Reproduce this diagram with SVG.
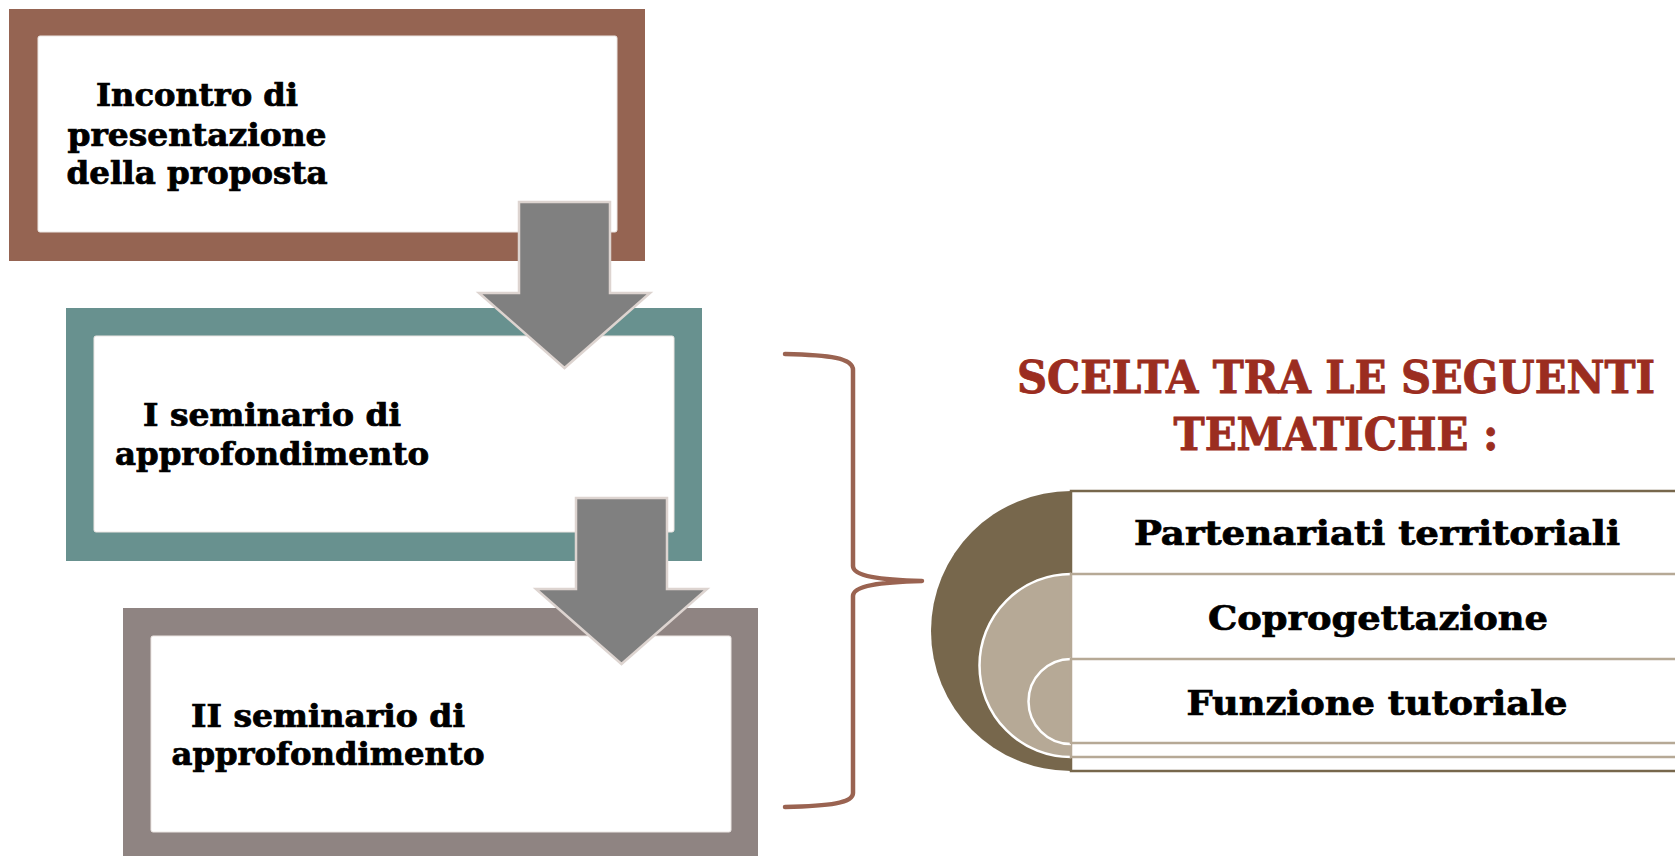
<svg xmlns="http://www.w3.org/2000/svg" width="1675" height="856" viewBox="0 0 1675 856">
  <style>
    .lbl { font-family: "DejaVu Serif Condensed", "DejaVu Serif", "Liberation Serif", serif; font-stretch: condensed; font-weight: bold; fill: #000; stroke: #000; stroke-width: 0.7; text-anchor: middle; }
    .box { font-size: 31px; }
    .row { font-size: 34px; }
    .title { font-family: "DejaVu Serif Condensed", "DejaVu Serif", "Liberation Serif", serif; font-stretch: condensed; font-weight: bold; fill: #9b2d20; stroke: #9b2d20; stroke-width: 0.8; font-size: 44px; text-anchor: middle; }
    .inner { fill: #ffffff; stroke: #ece6e3; stroke-width: 1; }
    .arrow { fill: #808080; stroke: #ddd4d0; stroke-width: 2.5; stroke-linejoin: miter; }
    .brace { fill: none; stroke: #9a6351; stroke-width: 4.5; stroke-linecap: round; stroke-linejoin: round; }
    .rowrect { fill: #ffffff; stroke: #b6a996; stroke-width: 2.5; }
  </style>
  <defs>
    <path id="downArrow" d="M0,0 L91,0 L91,91 L131,91 L45.5,166 L-40,91 L0,91 Z"/>
  </defs>
  <rect x="0" y="0" width="1675" height="856" fill="#ffffff"/>

  <g id="node-incontro">
    <rect x="9" y="9" width="636" height="252" fill="#956452"/>
    <rect class="inner" x="38" y="36" width="579" height="196" rx="2"/>
    <text class="lbl box" x="197" y="106" textLength="202" lengthAdjust="spacingAndGlyphs">Incontro di</text>
    <text class="lbl box" x="197" y="146" textLength="259" lengthAdjust="spacingAndGlyphs">presentazione</text>
    <text class="lbl box" x="197" y="184" textLength="261" lengthAdjust="spacingAndGlyphs">della proposta</text>
  </g>

  <g id="node-seminario1">
    <rect x="66" y="308" width="636" height="253" fill="#68918f"/>
    <rect class="inner" x="94" y="336" width="580" height="196" rx="2"/>
    <text class="lbl box" x="272" y="426" textLength="258" lengthAdjust="spacingAndGlyphs">I seminario di</text>
    <text class="lbl box" x="272" y="465" textLength="314" lengthAdjust="spacingAndGlyphs">approfondimento</text>
  </g>

  <g id="node-seminario2">
    <rect x="123" y="608" width="635" height="260" fill="#8f8482"/>
    <rect class="inner" x="151" y="636" width="580" height="196" rx="2"/>
    <text class="lbl box" x="328" y="727" textLength="274" lengthAdjust="spacingAndGlyphs">II seminario di</text>
    <text class="lbl box" x="328" y="765" textLength="313" lengthAdjust="spacingAndGlyphs">approfondimento</text>
  </g>

  <g id="connectors">
    <use href="#downArrow" class="arrow" transform="translate(519,202)"/>
    <use href="#downArrow" class="arrow" transform="translate(576,498)"/>
    <path class="brace" d="M785,354 C830,355 853,358 853,370 L853,566 C853,576 880,580 922,581 C880,582 853,586 853,596 L853,793 C853,803 830,806 785,807"/>
  </g>

  <g id="node-title">
    <text class="title" x="1336" y="393" textLength="638" lengthAdjust="spacingAndGlyphs">SCELTA TRA LE SEGUENTI</text>
    <text class="title" x="1336" y="450" textLength="325" lengthAdjust="spacingAndGlyphs">TEMATICHE :</text>
  </g>

  <g id="node-tematiche">
    <path d="M1071,491 A140,140 0 0 0 1071,771 Z" fill="#77674c"/>
    <rect x="1071" y="491" width="620" height="280" fill="#ffffff" stroke="#77674c" stroke-width="2.5"/>
    <path d="M1071,574 A91.5,91.5 0 0 0 1071,757 Z" fill="#b6a996"/>
    <path d="M1071,574 A91.5,91.5 0 0 0 1071,757" fill="none" stroke="#ffffff" stroke-width="2.5"/>
    <rect class="rowrect" x="1071" y="574" width="620" height="183"/>
    <path d="M1071,659 A42.5,42.5 0 0 0 1071,744 Z" fill="#b6a996"/>
    <path d="M1071,659 A42.5,42.5 0 0 0 1071,744" fill="none" stroke="#ffffff" stroke-width="2.5"/>
    <rect class="rowrect" x="1071" y="659" width="620" height="84"/>
  </g>

  <g id="node-partenariati">
    <text class="lbl row" x="1377" y="545" textLength="486" lengthAdjust="spacingAndGlyphs">Partenariati territoriali</text>
  </g>
  <g id="node-coprogettazione">
    <text class="lbl row" x="1378" y="630" textLength="340" lengthAdjust="spacingAndGlyphs">Coprogettazione</text>
  </g>
  <g id="node-funzione">
    <text class="lbl row" x="1377" y="715" textLength="381" lengthAdjust="spacingAndGlyphs">Funzione tutoriale</text>
  </g>
</svg>
